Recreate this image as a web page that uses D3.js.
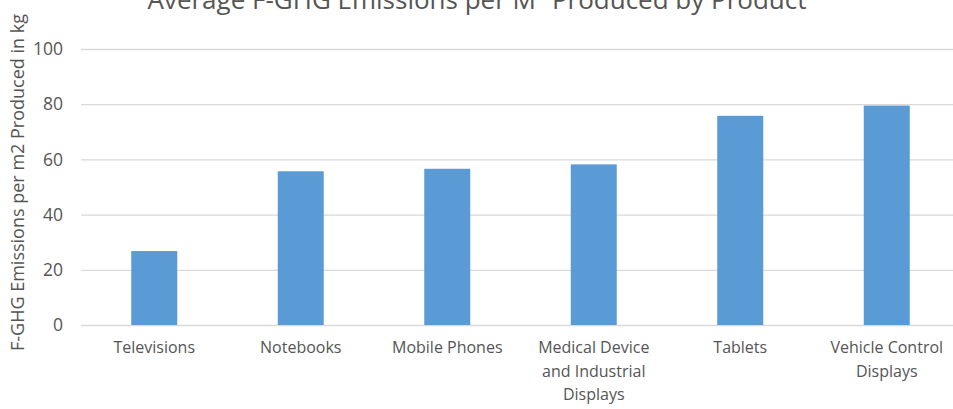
<!DOCTYPE html>
<html>
<head>
<meta charset="utf-8">
<script src="https://cdn.jsdelivr.net/npm/d3@7"></script>
<style>
  html, body { margin: 0; padding: 0; background: #fff; overflow: hidden; }
  svg { display: block; font-family: "Open Sans", sans-serif; }
</style>
</head>
<body>
<svg id="chart" width="953" height="409"></svg>
<script>
// Average F-GHG emissions per square metre of display produced, by product type
const categories = ["Televisions", "Notebooks", "Mobile Phones",
  "Medical Device and Industrial Displays", "Tablets", "Vehicle Control Displays"];
const emissions = [26.8, 55.7, 56.6, 58.2, 75.8, 79.5];
const yTicks = [0, 20, 40, 60, 80, 100];

const svg = d3.select("#chart");
const plot = { left: 81, right: 960, top: 49, bottom: 325 };
const textColor = "#555555";

const x = d3.scaleBand()
  .domain(categories)
  .range([plot.left, plot.right])
  .paddingInner(0.686)
  .paddingOuter(0.343);

const y = d3.scaleLinear()
  .domain([0, 100])
  .range([plot.bottom, plot.top]);

// Horizontal gridlines with tick labels
const yAxis = d3.axisLeft(y)
  .tickValues(yTicks)
  .tickSize(-(plot.right - plot.left))
  .tickPadding(18);

const gy = svg.append("g")
  .attr("transform", `translate(${plot.left},0)`)
  .call(yAxis);
gy.select(".domain").remove();
gy.selectAll(".tick line").attr("stroke", "#d9d9d9").attr("stroke-width", 1.3);
gy.selectAll(".tick text")
  .attr("fill", textColor)
  .style("font-size", "17.5px")
  .style("font-family", "'Open Sans', sans-serif");

// Bars
svg.append("g")
  .selectAll("rect")
  .data(categories.map((c, i) => ({ c, v: emissions[i] })))
  .join("rect")
  .attr("x", d => x(d.c))
  .attr("y", d => y(d.v))
  .attr("width", x.bandwidth())
  .attr("height", d => y(0) - y(d.v))
  .attr("fill", "#5b9bd5");

// Category labels, wrapped to the width of one band
const xAxis = d3.axisBottom(x).tickSize(0).tickPadding(17);
const gx = svg.append("g")
  .attr("transform", `translate(0,${plot.bottom})`)
  .call(xAxis);
gx.select(".domain").remove();
gx.selectAll(".tick text")
  .attr("fill", textColor)
  .style("font-size", "16px")
  .style("font-family", "'Open Sans', sans-serif")
  .call(wrap, 128);

function wrap(texts, width) {
  texts.each(function () {
    const text = d3.select(this);
    const words = text.text().split(/\s+/);
    const yPos = text.attr("y");
    const dy = parseFloat(text.attr("dy")) || 0;
    text.text(null);
    let line = [];
    let lineNo = 0;
    let tspan = text.append("tspan").attr("x", 0).attr("y", yPos).attr("dy", dy + "em");
    for (const w of words) {
      line.push(w);
      tspan.text(line.join(" "));
      if (tspan.node().getComputedTextLength() > width && line.length > 1) {
        line.pop();
        tspan.text(line.join(" "));
        line = [w];
        lineNo++;
        tspan = text.append("tspan").attr("x", 0).attr("y", yPos)
          .attr("dy", (dy + lineNo * 1.45) + "em").text(w);
      }
    }
  });
}

// Y axis title
svg.append("text")
  .attr("transform", `translate(24,${(10 + 355) / 2}) rotate(-90)`)
  .attr("text-anchor", "middle")
  .attr("fill", textColor)
  .style("font-size", "18px")
  .text("F-GHG Emissions per m2 Produced in kg");

// Chart title
const title = svg.append("text")
  .attr("x", 477)
  .attr("y", 9)
  .attr("text-anchor", "middle")
  .attr("fill", textColor)
  .style("font-size", "26px");
title.append("tspan").text("Average F-GHG Emissions per M");
title.append("tspan").attr("dy", -10).style("font-size", "16px").text("2");
title.append("tspan").attr("dy", 10).text(" Produced by Product");
</script>
</body>
</html>
